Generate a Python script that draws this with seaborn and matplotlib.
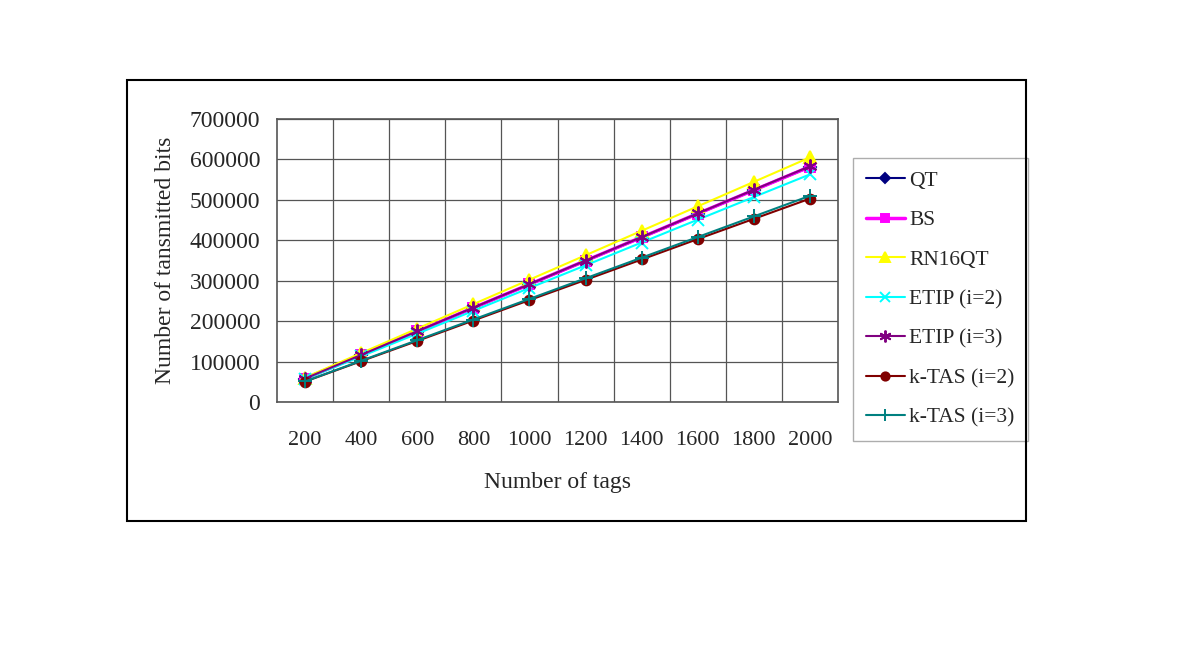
import numpy as np
import pandas as pd
import matplotlib
matplotlib.use("Agg")
import matplotlib.pyplot as plt
import seaborn as sns
from matplotlib.patches import Rectangle

tags = [200, 400, 600, 800, 1000, 1200, 1400, 1600, 1800, 2000]

qt = [57500, 115500, 174000, 232000, 290500, 348500, 406500, 465000, 523500, 581000]
bs = [58000, 116500, 174500, 233000, 291000, 349500, 407500, 466000, 524000, 582000]
rn16qt = [60500, 121000, 181500, 242000, 302500, 363000, 423500, 484000, 544500, 605000]
etip2 = [56500, 113000, 169000, 225500, 282000, 338000, 394500, 451000, 507000, 563000]
etip3 = [58000, 116500, 175000, 233500, 291500, 350000, 408000, 466500, 525000, 583000]
ktas2 = [50500, 101000, 151000, 201500, 252000, 302000, 352500, 403000, 453000, 503000]
ktas3 = [51000, 102000, 153000, 204000, 255000, 306000, 357000, 408000, 459000, 510000]

series = ["QT", "BS", "RN16QT", "ETIP (i=2)", "ETIP (i=3)", "k-TAS (i=2)", "k-TAS (i=3)"]
values = [qt, bs, rn16qt, etip2, etip3, ktas2, ktas3]
colors = ["#000080", "#FF00FF", "#FFFF00", "#00FFFF", "#800080", "#800000", "#008080"]
markers = ["D", "s", "^", "x", (6, 2, 0), "o", "+"]
msizes = [6, 7, 8, 8, 10, 7, 10]
lwidths = [1.5, 2.5, 1.5, 1.5, 1.5, 1.5, 1.5]

rows = []
for name, vals in zip(series, values):
    for i, v in enumerate(vals):
        rows.append({"pos": i, "bits": v, "series": name})
df = pd.DataFrame(rows)

sns.set_style("white")
plt.rcParams["font.family"] = ["Liberation Serif", "DejaVu Serif"]

fig = plt.figure(figsize=(12, 6.48), dpi=100)
fig.patches.append(Rectangle((127 / 1200, 1 - 521 / 648), (1026 - 127) / 1200, (521 - 80) / 648,
                             transform=fig.transFigure, fill=False, edgecolor="black", linewidth=1.5))

ax = fig.add_axes([277 / 1200, 1 - 402 / 648, (838 - 277) / 1200, (402 - 119) / 648])

for name, c, m, ms, lw in zip(series, colors, markers, msizes, lwidths):
    sub = df[df["series"] == name]
    sns.lineplot(data=sub, x="pos", y="bits", ax=ax, color=c, marker=m, markersize=ms,
                 markeredgecolor=c, markeredgewidth=1.4, linewidth=lw, label=name)

ax.set_xlim(-0.5, 9.5)
ax.set_ylim(0, 700000)
ax.set_yticks(np.arange(0, 700001, 100000))
ax.set_yticklabels([str(v) for v in range(0, 700001, 100000)], fontsize=17)
ax.set_xticks(range(10))
ax.set_xticklabels([str(t) for t in tags], fontsize=16)
ax.set_xticks(np.arange(0.5, 9.5, 1), minor=True)
ax.tick_params(axis="x", which="both", length=0, pad=21)
ax.tick_params(axis="y", length=0, pad=12)
ax.grid(False)
ax.xaxis.grid(True, which="minor", color="#555555", linewidth=0.9)
ax.yaxis.grid(True, which="major", color="#555555", linewidth=0.9)
for s in ax.spines.values():
    s.set_color("#555555")
    s.set_linewidth(1.2)

ax.set_xlabel("Number of tags", fontsize=17, labelpad=16)
ax.set_ylabel("Number of tansmitted bits", fontsize=17, labelpad=10)

leg = ax.legend(loc="upper left", bbox_to_anchor=(853 / 1200, 1 - 158 / 648), bbox_transform=fig.transFigure,
                fontsize=15.5, frameon=True, fancybox=False, edgecolor="#999999", labelspacing=0.9,
                handlelength=1.8, handletextpad=0.22, borderpad=0.6, borderaxespad=0, markerscale=0.85)
leg.get_frame().set_linewidth(1.0)

fig.savefig("out.png", dpi=100)
